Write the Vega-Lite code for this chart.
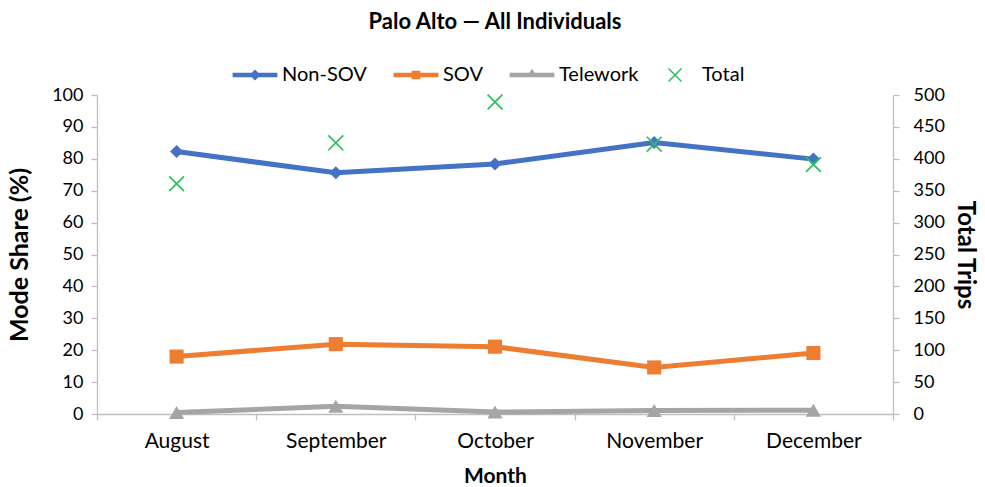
{
  "$schema": "https://vega.github.io/schema/vega-lite/v6.json",
  "autosize": {"type": "none"},
  "padding": {"left": 97, "top": 95, "right": 92, "bottom": 73},
  "width": 796,
  "height": 319,
  "background": "white",
  "title": {"text": "Palo Alto — All Individuals", "font": "Lato", "fontSize": 22, "fontWeight": "bold", "color": "#000000", "anchor": "middle", "offset": 31},
  "config": {
    "view": {"stroke": null},
    "font": "Lato",
    "axis": {"labelFont": "Lato", "titleFont": "Lato", "labelFontSize": 18, "titleFontSize": 25, "labelColor": "#000000", "titleColor": "#000000", "titleFontWeight": "bold", "domainColor": "#BFBFBF", "tickColor": "#BFBFBF", "grid": false, "tickSize": 6, "domainWidth": 1.3, "tickWidth": 1.3},
    "legend": {"labelFont": "Lato", "labelFontSize": 20, "labelColor": "#000000", "layout": {"top": {"anchor": "middle"}}}
  },
  "data": {"values": [
    {"month": "August", "series": "Non-SOV", "value": 82.3},
    {"month": "September", "series": "Non-SOV", "value": 75.6},
    {"month": "October", "series": "Non-SOV", "value": 78.4},
    {"month": "November", "series": "Non-SOV", "value": 85.1},
    {"month": "December", "series": "Non-SOV", "value": 79.9},
    {"month": "August", "series": "SOV", "value": 18.0},
    {"month": "September", "series": "SOV", "value": 21.9},
    {"month": "October", "series": "SOV", "value": 21.1},
    {"month": "November", "series": "SOV", "value": 14.6},
    {"month": "December", "series": "SOV", "value": 19.1},
    {"month": "August", "series": "Telework", "value": 0.5},
    {"month": "September", "series": "Telework", "value": 2.4},
    {"month": "October", "series": "Telework", "value": 0.6},
    {"month": "November", "series": "Telework", "value": 1.1},
    {"month": "December", "series": "Telework", "value": 1.2},
    {"month": "August", "series": "Total", "value": 361},
    {"month": "September", "series": "Total", "value": 425},
    {"month": "October", "series": "Total", "value": 489},
    {"month": "November", "series": "Total", "value": 423},
    {"month": "December", "series": "Total", "value": 391}
  ]},
  "encoding": {
    "x": {"field": "month", "type": "nominal", "sort": ["August", "September", "October", "November", "December"],
      "scale": {"type": "band", "paddingInner": 0, "paddingOuter": 0},
      "axis": {"title": "Month", "labelAngle": 0, "tickBand": "extent", "labelPadding": 10, "titlePadding": 14, "labelFontSize": 21, "titleFontSize": 21}},
    "color": {"field": "series", "type": "nominal",
      "scale": {"domain": ["Non-SOV", "SOV", "Telework", "Total"], "range": ["#4472C4", "#ED7D31", "#A5A5A5", "#2EBD5F"]},
      "legend": {"title": null, "orient": "top", "direction": "horizontal", "symbolSize": 196, "labelOffset": 17, "columnPadding": 26, "offset": 10,
        "encoding": {"symbols": {
          "shape": {"value": {"expr": "datum.value === 'Non-SOV' ? 'M-3.2,-0.33L3.2,-0.33L3.2,0.33L-3.2,0.33Z M0,-0.8L0.8,0L0,0.8L-0.8,0Z' : datum.value === 'SOV' ? 'M-3.2,-0.33L3.2,-0.33L3.2,0.33L-3.2,0.33Z M-0.62,-0.62L0.62,-0.62L0.62,0.62L-0.62,0.62Z' : datum.value === 'Telework' ? 'M-3.2,-0.33L3.2,-0.33L3.2,0.33L-3.2,0.33Z M0,-0.9L0.8,0.33L-0.8,0.33Z' : 'M-0.85,-1L1,0.85L0.85,1L-1,-0.85Z M1,-0.85L-0.85,1L-1,0.85L0.85,-1Z'"}},
          "fill": {"value": {"expr": "scale('color', datum.value)"}},
          "stroke": {"value": "transparent"},
          "strokeWidth": {"value": 0},
          "opacity": {"value": 1}
        }}}
    }
  },
  "layer": [
    {
      "transform": [{"filter": "datum.series !== 'Total'"}],
      "encoding": {
        "y": {"field": "value", "type": "quantitative", "scale": {"domain": [0, 100]},
          "axis": {"title": "Mode Share (%)", "values": [0,10,20,30,40,50,60,70,80,90,100], "labelPadding": 8, "titlePadding": 19}}
      },
      "layer": [
        {
          "mark": {"type": "line", "strokeWidth": 5}
        },
        {
          "mark": {"type": "point", "filled": true, "opacity": 1},
          "encoding": {
            "shape": {"field": "series", "type": "nominal", "legend": null,
              "scale": {"domain": ["Total", "Telework", "SOV", "Non-SOV"], "range": ["M-0.85,-1L1,0.85L0.85,1L-1,-0.85Z M1,-0.85L-0.85,1L-1,0.85L0.85,-1Z", "triangle-up", "square", "diamond"]}},
            "size": {"field": "series", "type": "nominal", "legend": null,
              "scale": {"domain": ["Total", "Telework", "SOV", "Non-SOV"], "range": [256, 170, 170, 170]}}
          }
        }
      ]
    },
    {
      "transform": [{"filter": "datum.series === 'Total'"}],
      "mark": {"type": "point", "filled": true, "opacity": 1},
      "encoding": {
        "y": {"field": "value", "type": "quantitative", "scale": {"domain": [0, 500]},
          "axis": {"title": "Total Trips", "orient": "right", "values": [0,50,100,150,200,250,300,350,400,450,500], "labelPadding": 14, "titlePadding": 8, "titleFontSize": 24}},
        "shape": {"field": "series", "type": "nominal", "legend": null},
        "size": {"field": "series", "type": "nominal", "legend": null}
      }
    }
  ],
  "resolve": {"scale": {"y": "independent"}}
}
